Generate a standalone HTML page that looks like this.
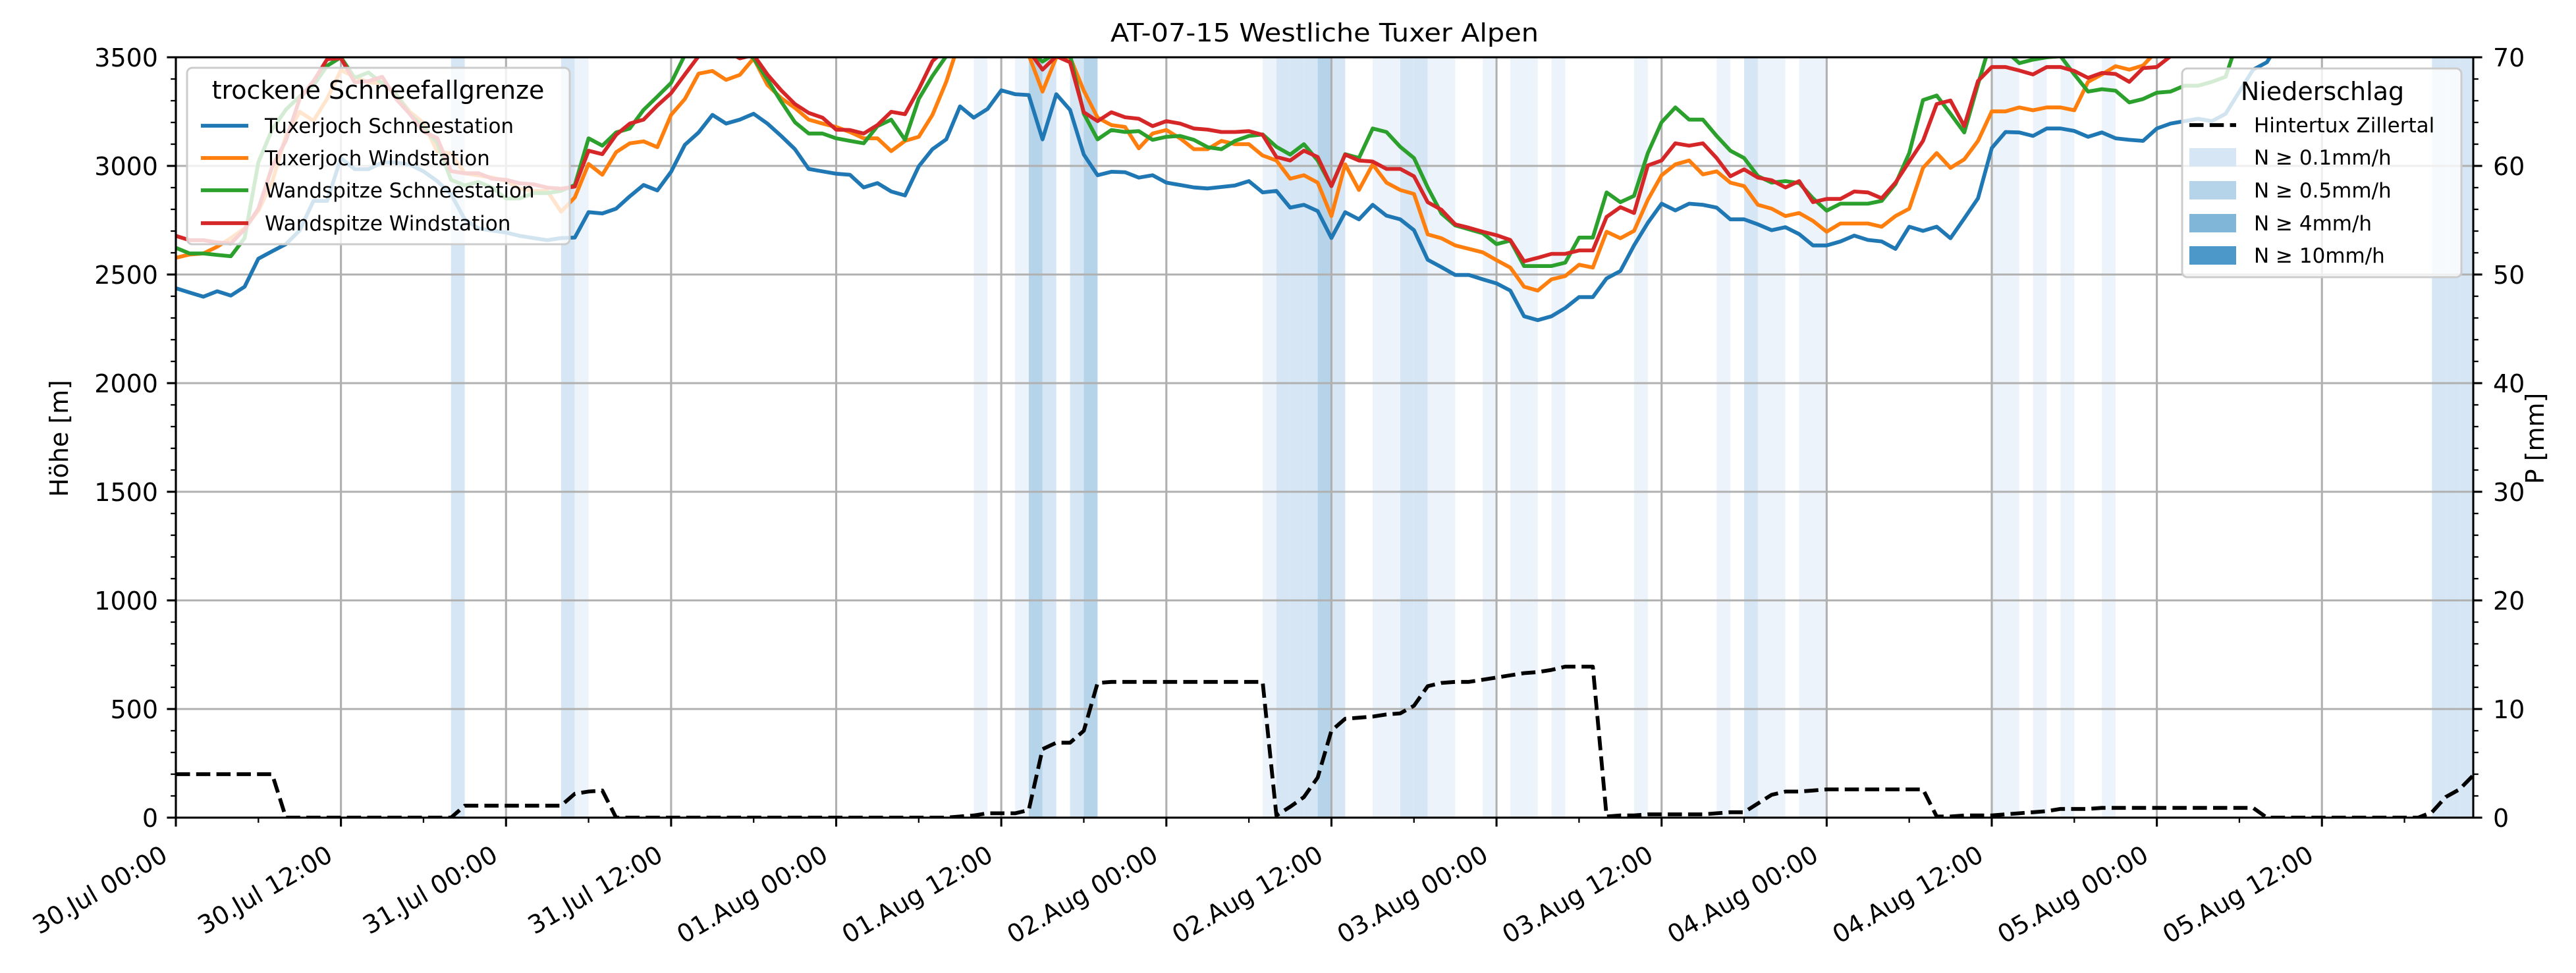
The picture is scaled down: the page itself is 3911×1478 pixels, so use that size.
<!DOCTYPE html>
<html><head><meta charset="utf-8"><title>AT-07-15 Westliche Tuxer Alpen</title>
<style>html,body{margin:0;padding:0;background:#fff;}svg{display:block;font-family:"DejaVu Sans","Liberation Sans",sans-serif;}</style>
</head><body>
<svg id="chart" xmlns="http://www.w3.org/2000/svg" width="3911" height="1478" viewBox="0 0 3911 1478">
<defs><clipPath id="plotclip"><rect x="267" y="87" width="3488" height="1155"/></clipPath></defs>
<rect x="0" y="0" width="3911" height="1478" fill="#fff"/>
<g id="bands" clip-path="url(#plotclip)"></g>
<g id="grid"></g>
<g id="series" clip-path="url(#plotclip)"></g>
<g id="axes"></g>
<g id="legends"></g>
</svg>
<script>
const hours = 167;
const blueTS = [2437,2417,2398,2423,2403,2444,2573,2607,2640,2703,2839,2839,3036,2985,2985,3016,3016,3006,2975,2930,2870,2754,2712,2702,2693,2678,2668,2658,2668,2670,
2787,2781,2803,2860,2912,2887,2973,3097,3154,3235,3195,3213,3240,3195,3138,3077,2986,2975,2964,2959,2901,2921,2882,2864,2998,3077,3122,3274,
3222,3262,3348,3330,3326,3122,3330,3258,3052,2957,2973,2971,2946,2957,2923,2912,2901,2896,2903,2910,2930,2878,2885,2808,2821,2792,2668,2787,
2754,2821,2771,2754,2704,2568,2534,2498,2498,2478,2459,2426,2308,2290,2308,2346,2396,2396,2482,2516,2634,2738,2826,2795,2826,2821,2808,2754,2754,
2731,2704,2718,2686,2634,2634,2652,2679,2659,2652,2618,2720,2701,2720,2667,2758,2851,3082,3156,3154,3138,3172,3172,3161,3134,3154,3127,3120,3115,
3172,3195,3206,3217,3206,3240,3342,3443,3477,3580,3620,3650,3660,3680,3690,3700,3700,3710,3720,3720,3730,3730,3740,3740];
const orangeTW = [2577,2592,2597,2628,2668,2713,2794,2926,3138,3249,3208,3309,3441,3410,3385,3380,3330,3249,3198,3067,3057,2966,2956,2946,2931,2895,2885,2885,2789,2855,
3009,2959,3063,3104,3113,3086,3235,3308,3425,3437,3396,3419,3495,3373,3312,3267,3213,3195,3179,3156,3127,3127,3068,3115,3134,3235,3387,3580,
3560,3540,3530,3520,3510,3342,3500,3500,3346,3222,3188,3179,3081,3149,3165,3127,3077,3077,3115,3100,3100,3048,3025,2941,2957,2923,2769,3007,
2889,3007,2923,2889,2871,2685,2667,2634,2618,2602,2566,2532,2444,2426,2478,2493,2545,2532,2697,2667,2701,2844,2957,3007,3025,2961,2975,2923,2907,
2821,2803,2769,2783,2747,2697,2735,2735,2735,2720,2769,2803,2991,3059,2991,3030,3115,3251,3251,3269,3256,3269,3269,3256,3387,3421,3459,3443,3462,
3530,3560,3580,3600,3620,3640,3650,3660,3670,3680,3690,3700,3700,3710,3720,3720,3730,3730,3740,3740,3750,3750,3760,3760];
const greenWS = [2623,2597,2597,2590,2584,2668,3017,3168,3259,3320,3370,3461,3500,3405,3430,3380,3330,3239,3178,3107,2936,2910,2926,2900,2850,2850,2875,2875,2885,2912,
3127,3093,3154,3172,3258,3319,3382,3511,3560,3570,3560,3540,3495,3398,3296,3201,3149,3149,3127,3115,3104,3183,3213,3120,3308,3414,3505,3580,
3560,3550,3540,3540,3530,3480,3520,3510,3240,3122,3165,3156,3160,3120,3134,3138,3120,3086,3077,3115,3138,3145,3088,3052,3100,3025,2907,3054,
3036,3172,3156,3088,3036,2901,2781,2726,2708,2690,2640,2656,2539,2539,2539,2555,2670,2670,2878,2833,2862,3059,3201,3269,3213,3213,3138,3070,3036,
2953,2923,2930,2921,2851,2794,2826,2826,2826,2839,2916,3059,3303,3324,3240,3154,3376,3590,3530,3473,3489,3500,3505,3421,3342,3353,3346,3292,3308,
3337,3342,3369,3369,3387,3410,3600,3620,3640,3650,3660,3670,3680,3690,3700,3700,3710,3720,3720,3730,3730,3740,3740,3750];
const redWW = [2678,2658,2658,2648,2643,2708,2804,2996,3117,3309,3390,3491,3496,3385,3390,3410,3309,3239,3158,3128,2976,2966,2966,2941,2936,2920,2915,2900,2895,2905,
3070,3054,3143,3195,3213,3278,3335,3421,3505,3530,3530,3495,3511,3421,3348,3285,3244,3222,3167,3165,3149,3188,3249,3238,3353,3482,3540,3580,
3560,3550,3540,3540,3530,3443,3505,3477,3247,3206,3247,3224,3217,3183,3206,3195,3172,3167,3156,3156,3160,3143,3041,3025,3070,3041,2907,3052,
3025,3020,2986,2986,2952,2833,2798,2731,2715,2697,2681,2659,2561,2577,2595,2595,2611,2611,2765,2810,2783,3002,3025,3104,3093,3104,3036,2952,2984,
2946,2934,2901,2930,2833,2848,2848,2882,2878,2851,2923,3020,3115,3285,3301,3183,3391,3455,3455,3439,3421,3455,3455,3437,3405,3428,3423,3387,3450,
3455,3505,3540,3560,3580,3600,3620,3640,3650,3660,3670,3680,3690,3700,3700,3710,3720,3720,3730,3730,3740,3740,3750,3750];
const precip = [4,4,4,4,4,4,4,4,0,0,0,0,0,0,0,0,0,0,0,0,0,1.1,1.1,1.1,1.1,1.1,1.1,1.1,1.1,2.2,2.4,2.5,
0,0,0,0,0,0,0,0,0,0,0,0,0,0,0,0,0,0,0,0,0,0,0,0,0,
0.1,0.2,0.4,0.4,0.4,0.7,6.3,6.9,6.9,8.0,12.4,12.5,12.5,12.5,12.5,12.5,12.5,12.5,12.5,12.5,12.5,12.5,12.5,
0.2,1.0,1.9,3.7,8.0,9.1,9.2,9.3,9.5,9.6,10.3,12.1,12.4,12.5,12.5,12.7,12.9,13.1,13.3,13.4,13.6,13.9,13.9,13.9,
0.1,0.2,0.2,0.3,0.3,0.3,0.3,0.3,0.4,0.5,0.5,1.3,2.1,2.4,2.4,2.5,2.6,2.6,2.6,2.6,2.6,2.6,2.6,2.6,
0.1,0.1,0.2,0.2,0.2,0.3,0.4,0.5,0.6,0.8,0.8,0.8,0.9,0.9,0.9,0.9,0.9,0.9,0.9,0.9,0.9,0.9,0.9,0.9,
0,0,0,0,0,0,0,0,0,0,0,0,0.5,1.9,2.6,3.9];
const bandHours = [20,28,29,58,61,62,63,65,66,79,80,81,82,83,84,87,88,89,90,91,92,95,97,98,100,106,112,114,115,116,118,119,132,133,135,137,140,164,165,166];
const bandLevels = [1,1,0,0,0,2,1,1,2,0,1,1,1,2,1,0,0,1,1,0,0,0,0,0,0,0,0,1,0,0,0,0,0,0,0,0,0,1,1,1];
const xTickLabels = ["30.Jul 00:00","30.Jul 12:00","31.Jul 00:00","31.Jul 12:00","01.Aug 00:00","01.Aug 12:00","02.Aug 00:00","02.Aug 12:00","03.Aug 00:00","03.Aug 12:00","04.Aug 00:00","04.Aug 12:00","05.Aug 00:00","05.Aug 12:00"];
const yTicksLeft = [0,500,1000,1500,2000,2500,3000,3500];
const yTicksRight = [0,10,20,30,40,50,60,70];

const NS = "http://www.w3.org/2000/svg";
const X0 = 267, X1 = 3755, Y0 = 1242, Y1 = 87;
const xs = h => X0 + h * (X1 - X0) / hours;
const ym = m => Y0 - m * (Y0 - Y1) / 3500;
const yp = p => Y0 - p * (Y0 - Y1) / 70;
const bandColors = ["#edf3fa", "#d6e6f4", "#b6d4e9", "#80b7d8", "#4b98c9"];
function mk(tag, attrs, parent) {
  const e = document.createElementNS(NS, tag);
  for (const k in attrs) e.setAttribute(k, attrs[k]);
  parent.appendChild(e);
  return e;
}
const gB = document.getElementById("bands"), gG = document.getElementById("grid"),
      gS = document.getElementById("series"), gA = document.getElementById("axes"),
      gL = document.getElementById("legends");

bandHours.forEach((h, i) => {
  const r = mk("rect", {x: xs(h), y: Y1, width: xs(h + 1) - xs(h), height: Y0 - Y1, fill: bandColors[bandLevels[i]]}, gB);
  
  
});

xTickLabels.forEach((lab, i) => {
  const x = xs(i * 12);
  const l = mk("line", {x1: x, x2: x, y1: Y1, y2: Y0, stroke: "#b0b0b0", "stroke-width": 3.1}, gG);
  
  
});
yTicksLeft.forEach(v => {
  const l = mk("line", {x1: X0, x2: X1, y1: ym(v), y2: ym(v), stroke: "#b0b0b0", "stroke-width": 3.1}, gG);
  
  
});

function poly(vals, yf, color, dash, name) {
  const pts = vals.map((v, i) => xs(i).toFixed(1) + "," + yf(v).toFixed(1)).join(" ");
  const p = mk("polyline", {points: pts, fill: "none", stroke: color, "stroke-width": 5.8, "stroke-linejoin": "round"}, gS);
  if (dash) p.setAttribute("stroke-dasharray", dash);
  
  
}
poly(blueTS, ym, "#1f77b4", null, "line-tuxerjoch-schneestation");
poly(orangeTW, ym, "#ff7f0e", null, "line-tuxerjoch-windstation");
poly(greenWS, ym, "#2ca02c", null, "line-wandspitze-schneestation");
poly(redWW, ym, "#d62728", null, "line-wandspitze-windstation");
poly(precip, yp, "#000", "21.5,9.3", "line-hintertux-precip");

// frame
const fr = mk("rect", {x: X0, y: Y1, width: X1 - X0, height: Y0 - Y1, fill: "none", stroke: "#000", "stroke-width": 3.1}, gA);



// x ticks
for (let h = 0; h <= hours; h += 6) {
  const major = h % 12 === 0;
  const t = mk("line", {x1: xs(h), x2: xs(h), y1: Y0, y2: Y0 + (major ? 13.6 : 7.8), stroke: "#000", "stroke-width": major ? 3.1 : 2.3}, gA);
  
  
}
xTickLabels.forEach((lab, i) => {
  const x = xs(i * 12) - 10, y = 1306;
  const t = mk("text", {x: x, y: y, "text-anchor": "end", "font-size": 38, transform: `rotate(-30 ${x} ${y})`}, gA);
  t.textContent = lab;
  
  
});
// left y ticks
for (let v = 0; v <= 3500; v += 100) {
  const major = v % 500 === 0;
  const t = mk("line", {x1: X0 - (major ? 13.6 : 7.8), x2: X0, y1: ym(v), y2: ym(v), stroke: "#000", "stroke-width": major ? 3.1 : 2.3}, gA);
  
  
}
yTicksLeft.forEach(v => {
  const t = mk("text", {x: 240, y: ym(v) + 14, "text-anchor": "end", "font-size": 38}, gA);
  t.textContent = v;
  
  
});
for (let v = 0; v <= 70; v += 2) {
  const major = v % 10 === 0;
  const t = mk("line", {x1: X1, x2: X1 + (major ? 13.6 : 7.8), y1: yp(v), y2: yp(v), stroke: "#000", "stroke-width": major ? 3.1 : 2.3}, gA);
  
  
}
yTicksRight.forEach(v => {
  const t = mk("text", {x: 3785, y: yp(v) + 14, "text-anchor": "start", "font-size": 38}, gA);
  t.textContent = v;
  
  
});
</script>
<svg x="0" y="0" width="0" height="0"></svg>
<script>
(function(){
const svg = document.getElementById("chart");
const gA = document.getElementById("axes"), gL = document.getElementById("legends");
const NS = "http://www.w3.org/2000/svg";
function mk(tag, attrs, parent) { const e = document.createElementNS(NS, tag); for (const k in attrs) e.setAttribute(k, attrs[k]); parent.appendChild(e); return e; }
let t;
t = mk("text", {x: 2011, y: 63, "text-anchor": "middle", "font-size": 38, textLength: 650, lengthAdjust: "spacingAndGlyphs"}, gA);
t.textContent = "AT-07-15 Westliche Tuxer Alpen";


t = mk("text", {x: 103, y: 666, "text-anchor": "middle", "font-size": 38, transform: "rotate(-90 103 666)"}, gA);
t.textContent = "Höhe [m]";


t = mk("text", {x: 3862, y: 666, "text-anchor": "middle", "font-size": 38, transform: "rotate(-90 3862 666)"}, gA);
t.textContent = "P [mm]";



// left legend
const l1 = mk("g", {}, gL);


mk("rect", {x: 284, y: 103, width: 581, height: 268, rx: 8, fill: "#fff", "fill-opacity": 0.8, stroke: "#cccccc", "stroke-width": 3}, l1);
t = mk("text", {x: 574, y: 150, "text-anchor": "middle", "font-size": 38}, l1);
t.textContent = "trockene Schneefallgrenze";


const ents = [["Tuxerjoch Schneestation", "#1f77b4", 191], ["Tuxerjoch Windstation", "#ff7f0e", 240], ["Wandspitze Schneestation", "#2ca02c", 289], ["Wandspitze Windstation", "#d62728", 339]];
ents.forEach(e => {
  const g = mk("g", {}, l1);
  
  
  mk("line", {x1: 305, x2: 377, y1: e[2], y2: e[2], stroke: e[1], "stroke-width": 5.8}, g);
  const tx = mk("text", {x: 402, y: e[2] + 11, "font-size": 31}, g);
  tx.textContent = e[0];
});
// right legend
const l2 = mk("g", {}, gL);


mk("rect", {x: 3313, y: 104, width: 424, height: 317, rx: 8, fill: "#fff", "fill-opacity": 0.8, stroke: "#cccccc", "stroke-width": 3}, l2);
t = mk("text", {x: 3526, y: 152, "text-anchor": "middle", "font-size": 38}, l2);
t.textContent = "Niederschlag";


let g = mk("g", {}, l2);


mk("line", {x1: 3324, x2: 3395, y1: 190, y2: 190, stroke: "#000", "stroke-width": 5.8, "stroke-dasharray": "21.5,9.3"}, g);
mk("text", {x: 3422, y: 201, "font-size": 31}, g).textContent = "Hintertux Zillertal";
const pents = [["N ≥ 0.1mm/h", "#d6e6f4", 239], ["N ≥ 0.5mm/h", "#b6d4e9", 289], ["N ≥ 4mm/h", "#80b7d8", 339], ["N ≥ 10mm/h", "#4b98c9", 388]];
pents.forEach(e => {
  const gg = mk("g", {}, l2);
  
  
  mk("rect", {x: 3324, y: e[2] - 14, width: 71, height: 28, fill: e[1]}, gg);
  mk("text", {x: 3422, y: e[2] + 11, "font-size": 31}, gg).textContent = e[0];
});
})();
</script>
</body></html>
